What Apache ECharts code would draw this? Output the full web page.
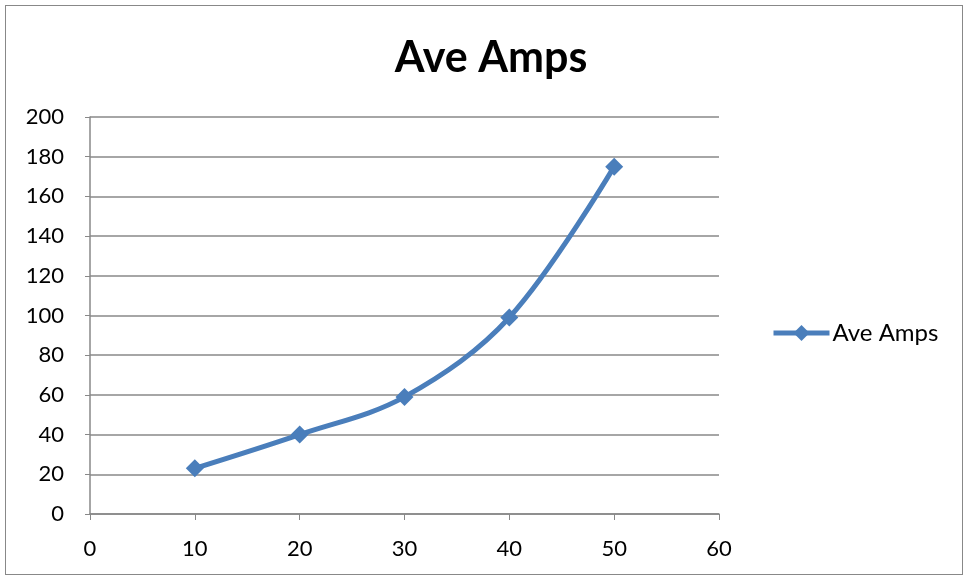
<!DOCTYPE html>
<html>
<head>
<meta charset="utf-8">
<script src="https://cdn.jsdelivr.net/npm/echarts@6/dist/echarts.min.js"></script>
<style>
  html, body { margin: 0; padding: 0; background: #fff; }
  #frame { position: absolute; left: 5px; top: 5px; width: 958px; height: 570px; border: 1px solid #888; box-sizing: border-box; }
  #chart { position: absolute; left: 0; top: 0; width: 967px; height: 580px; }
</style>
</head>
<body>
<div id="frame"></div>
<div id="chart"></div>
<script>
// Average current readings
const seriesName = 'Ave Amps';
const xValues = [10, 20, 30, 40, 50];
const ampValues = [23, 40, 59, 99, 175];

const FONT = 'Lato, "Open Sans", sans-serif';
const BLUE = '#4a7ebb';
const chart = echarts.init(document.getElementById('chart'));
chart.setOption({
  animation: false,
  title: {
    text: 'Ave Amps',
    left: 486, top: 32, textAlign: 'center',
    textStyle: { fontFamily: FONT, fontSize: 43, fontWeight: 'bold', color: '#000' }
  },
  legend: {
    data: [seriesName],
    left: 766, top: 316,
    itemWidth: 56, itemHeight: 20, itemGap: 4,
    lineStyle: { width: 5 },
    textStyle: { fontFamily: FONT, fontSize: 24, color: '#000', padding: [0, 0, 0, -2] }
  },
  grid: { left: 90, right: 248, top: 117, bottom: 66 },
  xAxis: {
    type: 'value', min: 0, max: 60, interval: 10,
    axisLine: { show: true, lineStyle: { color: '#888', width: 1.5 } },
    axisTick: { show: true, length: 6, lineStyle: { color: '#888' } },
    splitLine: { show: false },
    axisLabel: { fontFamily: FONT, fontSize: 22, color: '#000', margin: 24 }
  },
  yAxis: {
    type: 'value', min: 0, max: 200, interval: 20,
    axisLine: { show: true, lineStyle: { color: '#888', width: 1.5 } },
    axisTick: { show: true, inside: false, length: 5, lineStyle: { color: '#888' } },
    splitLine: { show: true, lineStyle: { color: '#888', width: 1.5 } },
    axisLabel: { fontFamily: FONT, fontSize: 22, color: '#000', margin: 26 }
  },
  series: [{
    name: seriesName,
    type: 'line',
    data: xValues.map((x, i) => [x, ampValues[i]]),
    smooth: 0.35,
    symbol: 'diamond',
    symbolSize: 18,
    lineStyle: { color: BLUE, width: 5 },
    itemStyle: { color: BLUE }
  }]
});
</script>
</body>
</html>
